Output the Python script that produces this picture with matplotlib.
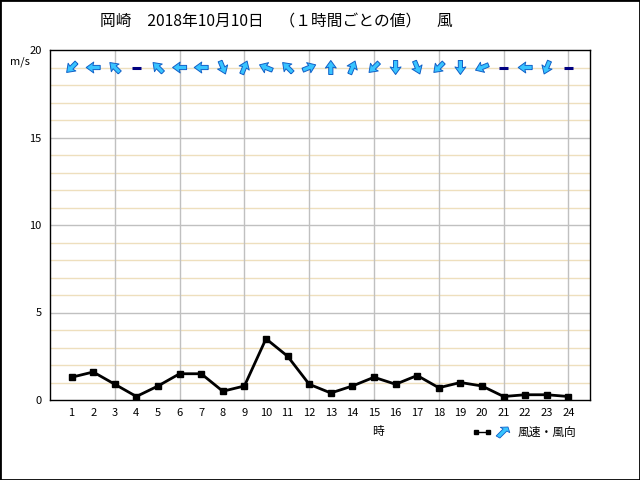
import matplotlib
matplotlib.use("Agg")
import matplotlib.pyplot as plt
import numpy as np
from matplotlib.lines import Line2D
from matplotlib.patches import Rectangle, FancyArrow

plt.rcParams['font.family'] = ['Noto Sans CJK JP', 'DejaVu Sans']

# hourly values, 岡崎 2018-10-10
hours = list(range(1, 25))
speed = [1.3, 1.6, 0.9, 0.2, 0.8, 1.5, 1.5, 0.5, 0.8, 3.5, 2.5, 0.9,
         0.4, 0.8, 1.3, 0.9, 1.4, 0.7, 1.0, 0.8, 0.2, 0.3, 0.3, 0.2]
# wind direction (where it blows from), 16 points; 'calm' = 静穏
direction = ['NE', 'E', 'SE', 'calm', 'SE', 'E', 'E', 'NNW', 'SSW', 'ESE', 'SE', 'WSW',
             'S', 'SSW', 'NE', 'N', 'NNW', 'NE', 'N', 'ENE', 'calm', 'E', 'NNE', 'calm']

compass = ['N', 'NNE', 'NE', 'ENE', 'E', 'ESE', 'SE', 'SSE',
           'S', 'SSW', 'SW', 'WSW', 'W', 'WNW', 'NW', 'NNW']

title = '岡崎　2018年10月10日　（１時間ごとの値）　風'

fig = plt.figure(figsize=(6.4, 4.8), dpi=100)
ax = fig.add_axes([50/640, 80/480, 540/640, 350/480])

# grid: thin beige every 1 m/s, gray every 5, vertical gray every 3 hours
for v in range(1, 20):
    col = '#c0c0c0' if v % 5 == 0 else '#eedfbd'
    ax.axhline(v, color=col, lw=1, zorder=0)
for h in range(3, 25, 3):
    ax.axvline(h, color='#c0c0c0', lw=1, zorder=0)

ax.plot(hours, speed, color='black', lw=2, marker='s', ms=5, zorder=3)

# direction arrows near the top
arrow_y = 19
xs, us, vs = [], [], []
for h, d in zip(hours, direction):
    if d == 'calm':
        ax.plot([h - 0.22, h + 0.22], [arrow_y, arrow_y], color='#000080', lw=2.2,
                solid_capstyle='butt', zorder=4)
        continue
    bearing = (compass.index(d) * 22.5 + 180) % 360
    ang = np.deg2rad(90 - bearing)
    xs.append(h)
    us.append(np.cos(ang) * 14)
    vs.append(np.sin(ang) * 14)
ax.quiver(xs, [arrow_y] * len(xs), us, vs, angles='uv', pivot='middle',
          units='dots', scale_units='dots', scale=1, width=4.2,
          headwidth=2.6, headlength=1.8, headaxislength=1.6,
          facecolor='#38c4ff', edgecolor='#1060c8', linewidth=0.7, zorder=4)

ax.set_xlim(0, 25)
ax.set_ylim(0, 20)
ax.set_xticks(hours)
ax.set_xticklabels([str(h) for h in hours], fontsize=8)
ax.set_yticks([0, 5, 10, 15, 20])
ax.set_yticklabels(['0', '5', '10', '15', '20'], fontsize=8)
ax.tick_params(length=0, pad=6)
for s in ax.spines.values():
    s.set_color('black')
    s.set_linewidth(1)

fig.text(276/640, 1 - 22/480, title, ha='center', va='center', fontsize=11.3)
fig.text(10/640, 1 - 62/480, 'm/s', ha='left', va='center', fontsize=8)
fig.text(378/640, 1 - 432/480, '時', ha='center', va='center', fontsize=8.5)

# legend
fig.add_artist(Line2D([476/640, 488/640], [1 - 432/480] * 2, color='black', lw=1,
                      marker='s', ms=2.5))
fig.text(518/640, 1 - 432/480, '風速・風向', ha='left', va='center', fontsize=8.5)
lx, ly = 503/640, 1 - 432/480
fig.add_artist(FancyArrow(lx - 5/640, ly - 5/480, 10/640, 10/480,
                          width=3.5/480, head_width=9/480, head_length=5/640,
                          length_includes_head=True,
                          facecolor='#38c4ff', edgecolor='#1060c8', lw=0.6))

fig.add_artist(Rectangle((0, 0), 1, 1, transform=fig.transFigure, fill=False,
                         edgecolor='black', lw=2))

fig.savefig('out.png', dpi=100)
